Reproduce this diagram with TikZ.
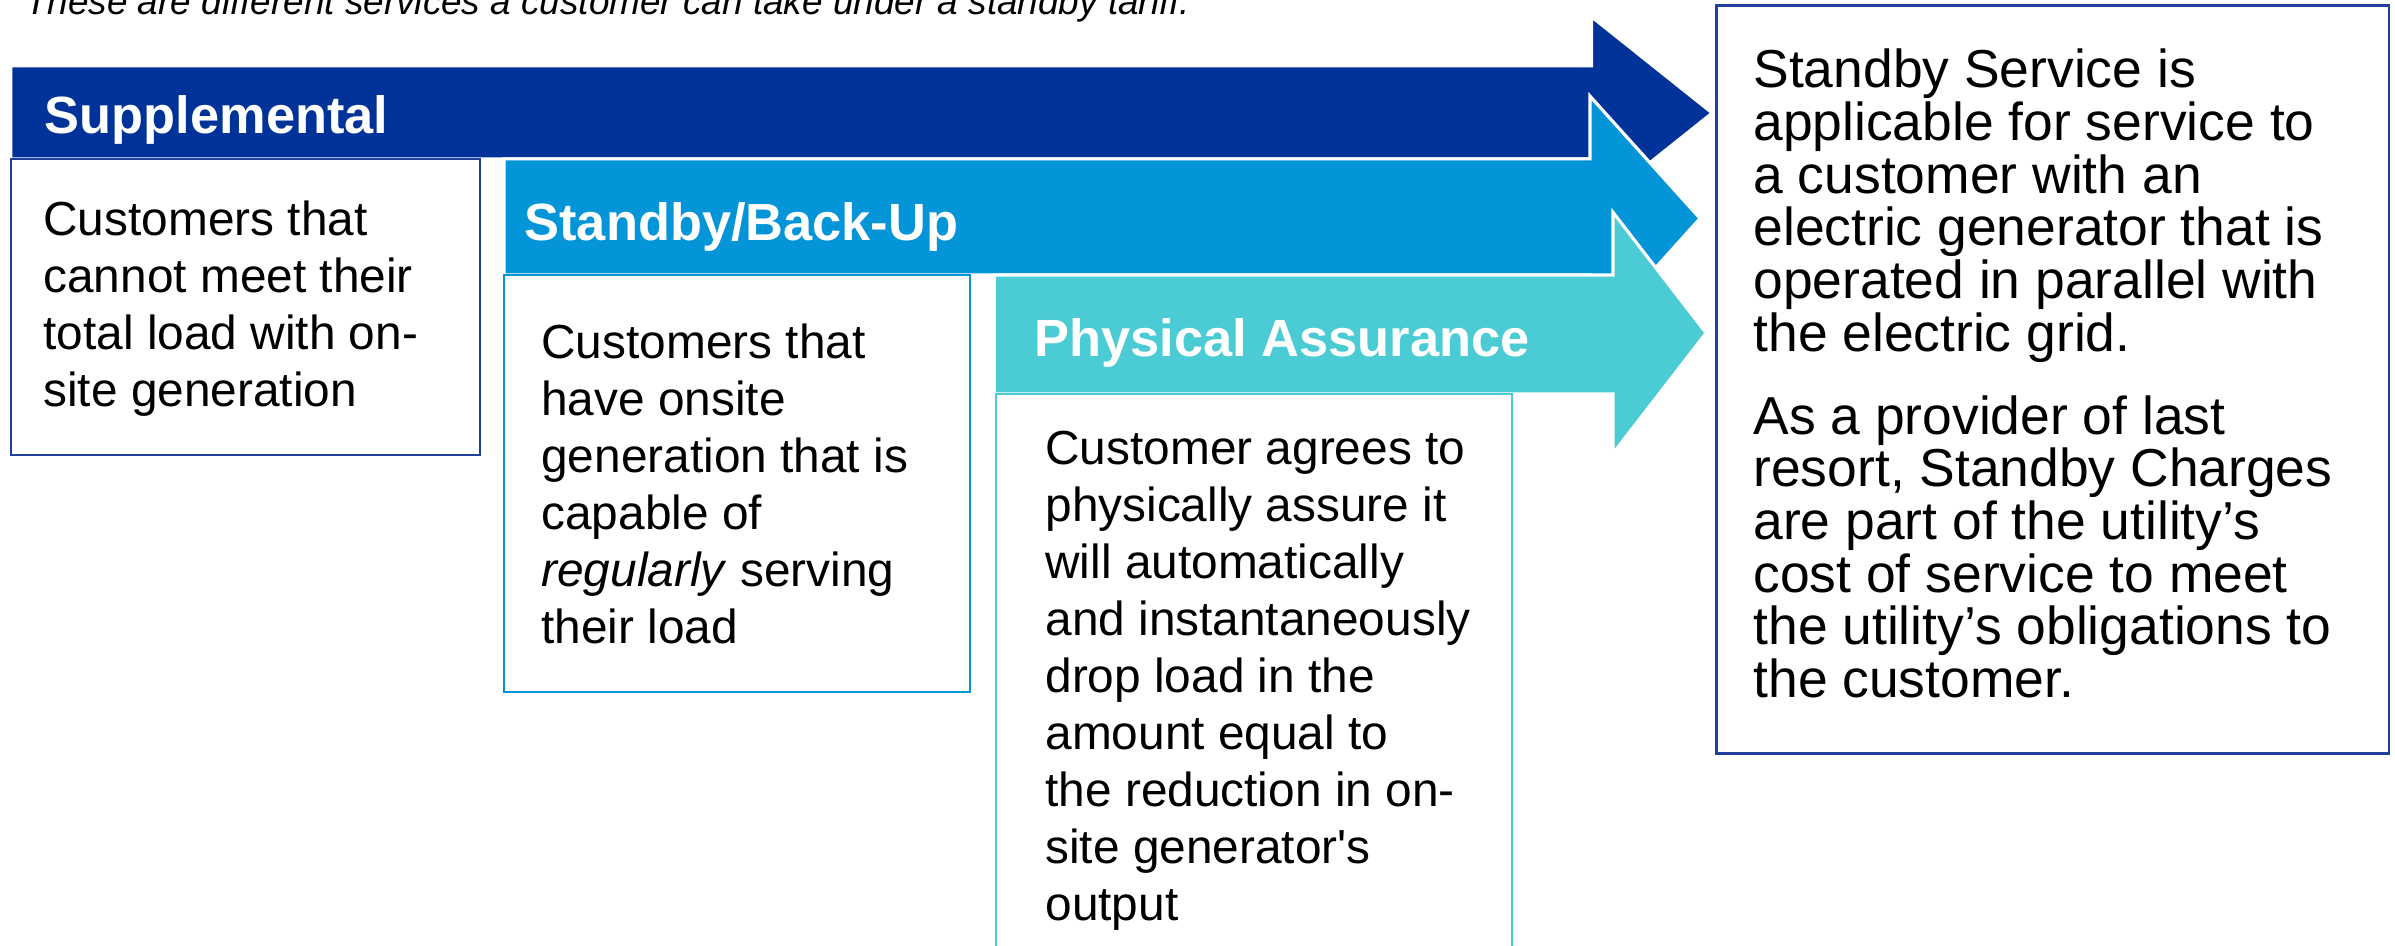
\documentclass[tikz,border=0pt]{standalone}
\usepackage{fontspec}
\setmainfont{Liberation Sans}
\usepackage{xcolor}
\usetikzlibrary{positioning}

\definecolor{supblue}{HTML}{003399}
\definecolor{backblue}{HTML}{0494D8}
\definecolor{assurecyan}{HTML}{4BCBD4}
\definecolor{frameblue}{HTML}{1F409C}

\begin{document}
\begin{tikzpicture}[
    x=0.015274cm, y=-0.015274cm,
    band/.style={draw=white, line width=0.9pt},
    infobox/.style={line width=0.6pt},
    title/.style={anchor=base west, inner sep=0pt, text=white, font=\bfseries\fontsize{14.9}{16}\selectfont},
    bodytext/.style={anchor=north west, inner sep=0pt, align=left, font=\fontsize{13.6}{16.2}\selectfont},
    sidetext/.style={anchor=north west, inner sep=0pt, align=left, font=\fontsize{15.2}{15.0}\selectfont},
    caption/.style={anchor=base west, inner sep=0pt, font=\itshape\fontsize{10.5}{12}\selectfont}
]
    \useasboundingbox (0,0) rectangle (1568,619);

    % Caption (cut off at the top)
    \node[caption] (note) at (16,9.2) {These are different services a customer can take under a standby tariff.};

    % Supplemental
    \fill[supblue, band] (7,43) -- (1042,43) -- (1042,11) -- (1121,74) -- (1042,137) -- (1042,104) -- (7,104) -- cycle;
    \node[title] (suptitle) at (29,87.3) {Supplemental};
    \draw[infobox, frameblue] (7,104) rectangle (314,298);
    \node[bodytext] (suptext) at (28,131) {Customers that\\cannot meet their\\total load with on-\\site generation};

    % Standby/Back-Up
    \fill[backblue, band] (330,104) -- (1041,104) -- (1041,63) -- (1113,143) -- (1041,223) -- (1041,180) -- (330,180) -- cycle;
    \node[title] (backtitle) at (343,157.6) {Standby/Back-Up};
    \draw[infobox, backblue] (330,180) rectangle (635,453);
    \node[bodytext] (backtext) at (354,211.6) {Customers that\\have onsite\\generation that is\\capable of\\\textit{regularly} serving\\their load};

    % Physical Assurance
    \fill[assurecyan, band] (651,180) -- (1056,180) -- (1056,139) -- (1117,218) -- (1056,297) -- (1056,258) -- (651,258) -- cycle;
    \node[title] (assuretitle) at (677,233.5) {Physical Assurance};
    \draw[infobox, assurecyan] (652,258) rectangle (990,640);
    \node[bodytext] (assuretext) at (684,282) {Customer agrees to\\physically assure it\\will automatically\\and instantaneously\\drop load in the\\amount equal to\\the reduction in on-\\site generator\textquotesingle s\\output};

    % Standby Service summary
    \draw[infobox, frameblue, line width=0.8pt] (1124,3.5) rectangle (1564,493.5);
    \node[sidetext] (summary) at (1147.5,31.7) {Standby Service is\\applicable for service to\\a customer with an\\electric generator that is\\operated in parallel with\\the electric grid.\\[8.5pt]As a provider of last\\resort, Standby Charges\\are part of the utility’s\\cost of service to meet\\the utility’s obligations to\\the customer.};

\end{tikzpicture}
\end{document}
